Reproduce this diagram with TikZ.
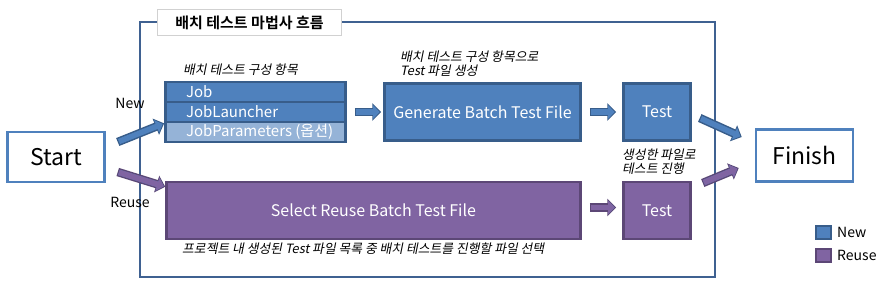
\documentclass[tikz,border=0pt]{standalone}
\usepackage{fontspec}
\setmainfont{Noto Sans CJK KR}[BoldFont={Noto Sans CJK KR Bold}]
\newfontfamily\notefont[FakeSlant=0.2]{Noto Sans CJK KR}
\usetikzlibrary{positioning,arrows.meta,fit,calc}
\definecolor{newfill}{HTML}{4F81BD}
\definecolor{newedge}{HTML}{385D8A}
\definecolor{newlight}{HTML}{95B3D7}
\definecolor{reusefill}{HTML}{8064A2}
\definecolor{reuseedge}{HTML}{5C4776}
\definecolor{framecol}{HTML}{3F6191}
\newcommand{\rowtext}[1]{\makebox[139pt][l]{#1}}
\tikzset{
  newbox/.style={draw=newedge, line width=2.5pt, fill=newfill, text=white, minimum height=57pt, inner sep=0pt, align=center, font=\fontsize{16}{19}\selectfont},
  reusebox/.style={newbox, draw=reuseedge, fill=reusefill},
  rowbox/.style={draw=newedge, line width=1.2pt, fill=newfill, text=white, minimum width=179pt, minimum height=19pt, inner sep=0pt, font=\fontsize{15}{17}\selectfont},
  endbox/.style={draw=newfill, line width=2.5pt, fill=white, minimum width=97pt, inner sep=0pt, font=\fontsize{23}{26}\selectfont},
  titlebox/.style={draw=black!18, line width=1pt, fill=white, minimum width=184pt, minimum height=26pt, inner sep=0pt, font=\bfseries\fontsize{15}{18}\selectfont},
  note/.style={font=\notefont\fontsize{12.8}{14}\selectfont, align=left, inner sep=0pt},
  pathlabel/.style={font=\fontsize{14}{16}\selectfont, inner sep=0pt},
  legendbox/.style={draw=#1edge, fill=#1fill, line width=2pt, minimum width=15pt, minimum height=13pt, inner sep=0pt},
  newflow/.style={draw=newedge, line width=8.5pt, -{Triangle[length=9pt,width=17pt]},
    postaction={draw=newfill, line width=5.5pt, -{Triangle[length=6.5pt,width=13pt]}, shorten >=1.6pt, shorten <=1.3pt}},
  reuseflow/.style={newflow, draw=reuseedge,
    postaction={draw=reusefill, line width=5.5pt, -{Triangle[length=6.5pt,width=13pt]}, shorten >=1.6pt, shorten <=1.3pt}}
}

\begin{document}
\begin{tikzpicture}[x=1pt, y=-1pt]
  \useasboundingbox (0,0) rectangle (881,285);
  % wizard frame
  \draw[framecol, line width=2.8pt] (140,22) rectangle (715,277);
  \node[titlebox] (title) at (249.5,22.5) {배치 테스트 마법사 흐름};

  \node[endbox, minimum height=50pt] (start) at (56,157) {Start};
  \node[endbox, minimum height=52pt] (finish) at (804.5,155.5) {Finish};

  % new path
  \node[rowbox] (jobrow) at (255.5,92) {\rowtext{Job}};
  \node[rowbox] (launcherrow) at (255.5,112) {\rowtext{JobLauncher}};
  \node[rowbox, fill=newlight] (paramrow) at (255.5,132) {\rowtext{JobParameters (옵션)}};
  \node[draw=newedge, line width=2.5pt, inner sep=0pt, fit=(jobrow)(paramrow)] (stack) {};
  \node[newbox, minimum width=196pt] (generate) at (482.5,112) {Generate Batch Test File};
  \node[newbox, minimum width=67pt] (testnew) at (657,112) {Test};

  % reuse path
  \node[reusebox, minimum width=414pt] (select) at (373.5,210.5) {Select Reuse Batch Test File};
  \node[reusebox, minimum width=67pt] (testreuse) at (657,210.5) {Test};

  \node[note, anchor=west] (notestack) at (183,70) {배치 테스트 구성 항목};
  \node[note, anchor=west] (notegen) at (400,64) {배치 테스트 구성 항목으로\\Test 파일 생성};
  \node[note, anchor=west] (notetest) at (622,162) {생성한 파일로\\테스트 진행};
  \node[note, anchor=west] (noteselect) at (182,249) {프로젝트 내 생성된 Test 파일 목록 중 배치 테스트를 진행할 파일 선택};

  \node[pathlabel] (newlabel) at (130,103) {New};
  \node[pathlabel] (reuselabel) at (130,202) {Reuse};

  % legend
  \node[legendbox=new] (legnew) at (823.5,232.5) {};
  \node[legendbox=reuse] (legreuse) at (823.5,255.5) {};
  \node[pathlabel, right=5pt of legnew] (legnewtext) {New};
  \node[pathlabel, right=5pt of legreuse] (legreusetext) {Reuse};

  % arrows
  \coordinate (newtail) at ($(start.east)+(12,-15)$);
  \coordinate (newhead) at ($(stack.south west)+(0,-20)$);
  \coordinate (reusetail) at ($(start.east)+(12,15)$);
  \coordinate (reusehead) at ($(select.north west)+(0,6)$);
  \coordinate (donetail) at ($(testnew.east)+(8,6)$);
  \coordinate (donehead) at ($(finish.west)+(-13,-18.5)$);
  \coordinate (redotail) at ($(testreuse.east)+(11,-27.5)$);
  \coordinate (redohead) at ($(finish.west)+(-16,12.5)$);
  \draw[newflow] (newtail) -- (newhead);
  \draw[reuseflow] (reusetail) -- (reusehead);
  \draw[newflow] ($(stack.east)+(8,0)$) -- ($(generate.west)+(-2,0)$);
  \draw[newflow] ($(generate.east)+(8,0)$) -- ($(testnew.west)+(-6,0)$);
  \draw[reuseflow] ($(select.east)+(8,-3)$) -- ($(testreuse.west)+(-6,-3)$);
  \draw[newflow] (donetail) -- (donehead);
  \draw[reuseflow] (redotail) -- (redohead);
\end{tikzpicture}
\end{document}
